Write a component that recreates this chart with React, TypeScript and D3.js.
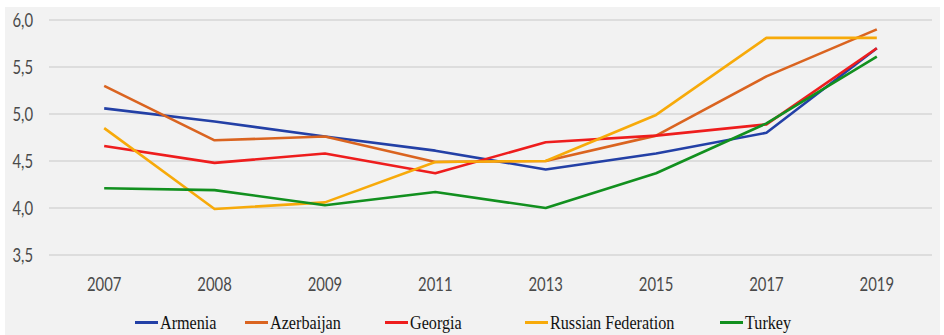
import React from "react";
import * as d3 from "d3";

const years = ["2007", "2008", "2009", "2011", "2013", "2015", "2017", "2019"];
const armenia = [5.06, 4.92, 4.76, 4.61, 4.41, 4.58, 4.8, 5.7];
const azerbaijan = [5.3, 4.72, 4.76, 4.49, 4.5, 4.77, 5.4, 5.9];
const georgia = [4.66, 4.48, 4.58, 4.37, 4.7, 4.77, 4.89, 5.7];
const russia = [4.85, 3.99, 4.06, 4.49, 4.5, 4.99, 5.81, 5.81];
const turkey = [4.21, 4.19, 4.03, 4.17, 4.0, 4.37, 4.9, 5.61];
const yTicks = [3.5, 4.0, 4.5, 5.0, 5.5, 6.0];

const seriesNames = ["Armenia", "Azerbaijan", "Georgia", "Russian Federation", "Turkey"];
const seriesValues = [armenia, azerbaijan, georgia, russia, turkey];
const seriesColors = ["#2340a6", "#da6420", "#ee1d1d", "#f7aa0a", "#12901f"];
const legendX = [135, 245, 385, 525, 720];

export default function App() {
  const W = 944, H = 335;
  const x = d3.scaleBand<string>().domain(years).range([49, 932]);
  const y = d3.scaleLinear().domain([3.5, 6.0]).range([255, 20]);
  const line = d3
    .line<number>()
    .x((_, i) => (x(years[i]) as number) + x.bandwidth() / 2)
    .y((v) => y(v));
  const axisFont = "Lato, 'Open Sans', sans-serif";
  return (
    <svg width={W} height={H} style={{ position: "absolute", left: 0, top: 0 }}>
      <rect x={0} y={0} width={W} height={H} fill="#ffffff" />
      <rect x={5} y={7} width={935} height={328} fill="#f2f2f2" />
      {yTicks.map((t) => (
        <g key={t}>
          <line x1={49} x2={932} y1={y(t)} y2={y(t)} stroke="#d6d6d6" strokeWidth={1.5} />
          <text
            transform={`translate(33,${y(t) + 6.5}) scale(0.9,1.15)`}
            textAnchor="end"
            fontFamily={axisFont}
            fontSize={16.5}
            fill="#4a4a4a"
          >
            {d3.format(".1f")(t).replace(".", ",")}
          </text>
        </g>
      ))}
      {years.map((yr) => (
        <text
          key={yr}
          transform={`translate(${(x(yr) as number) + x.bandwidth() / 2},${291}) scale(0.9,1.15)`}
          textAnchor="middle"
          fontFamily={axisFont}
          fontSize={16.5}
          fill="#4a4a4a"
        >
          {yr}
        </text>
      ))}
      {seriesValues.map((vals, i) => (
        <path
          key={seriesNames[i]}
          d={line(vals) || ""}
          fill="none"
          stroke={seriesColors[i]}
          strokeWidth={2.6}
          strokeLinejoin="round"
        />
      ))}
      {seriesNames.map((n, i) => (
        <g key={n}>
          <line x1={legendX[i]} x2={legendX[i] + 23} y1={322.5} y2={322.5} stroke={seriesColors[i]} strokeWidth={3} />
          <text
            transform={`translate(${legendX[i] + 25},${329}) scale(0.98,1.2)`}
            fontFamily="'Liberation Serif', 'DejaVu Serif', serif"
            fontSize={16.5}
            fill="#111111"
          >
            {n}
          </text>
        </g>
      ))}
    </svg>
  );
}
